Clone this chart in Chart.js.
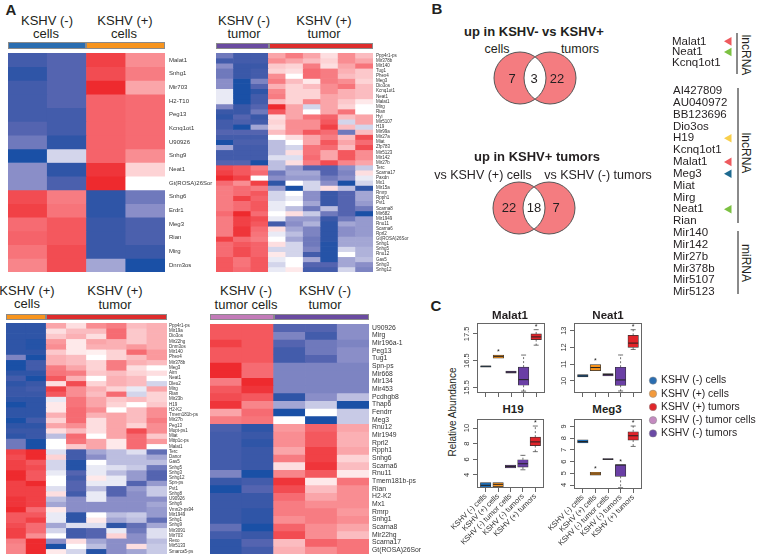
<!DOCTYPE html>
<html>
<head>
<meta charset="utf-8">
<script src="https://cdn.jsdelivr.net/npm/chart.js@4"></script>
<style>
html,body{margin:0;padding:0;background:#fff;overflow:hidden}
#fig{position:relative;width:759px;height:554px;overflow:hidden;font-family:"Liberation Sans",Arial,sans-serif;color:#231f20}
#fig canvas{position:absolute}
.t{position:absolute;white-space:nowrap;transform:translate(-50%,-50%);line-height:1}
.bar{position:absolute;box-sizing:border-box;border:1px solid #8a8a8a}
</style>
</head>
<body>
<div id="fig"></div>
<script>
// heatmap rows, z value -10 (blue) to 10 (red), one array per row
const cellNames = ['Malat1','Snhg1','Mir703','H2-T10','Peg13','Kcnq1ot1','U90926','Snhg9','Neat1','Gt(ROSA)26Sor','Snhg6','Erdr1','Meg3','Rian','Mirg','Dnm3os']
const cellRows = [
	[-8,-7,9,5],[-9,-7,8.5,6],[-8,-7,10,4],[-8,-7,7.5,7],[-8,-8,7.5,7],[-7,-8,7.5,7],[-6,-9,7.5,7],[-10,-2,7.5,5],
	[-5,-9,9.5,2],[-5,-7.5,10,0],[8.5,6,-9,-6],[9,6.5,-9,-5],[7,8,-8.5,-7.5],[7.5,8,-8.5,-7.5],[6.5,8.5,-8.5,-8.5],[5.5,8.5,-4,-10]
]
const tumorNames = ['Ppp4r1-ps','Mir378b','Mir140','Tug1','Phex4','Meg3','Dio3os','Kcnq1ot1','Neat1','Malat1','Mirg','Rian','Hyi','Mir5107','H19','Mir99a','Mir27a','Miat','Zfp783','Mir5123','Mir142','Mir27b','Terc','Scarna17','Paxdn','Mx1','Mir15a','Rmrp','Rpph1','Pvt1','Scarna8','Mir682','Mir1949','Rnu11','Scarna6','Rprl2','Gt(ROSA)26Sor','Snhg1','Snhg5','Rnu12','Gas5','Snhg3','Snhg12']
const tumorRows = [
	[-6,-8,-8,4,6,4,1.5,5,3],[-8,-8,-8,5,4,3,2,5,4],[-5,-8.5,-8.5,2.5,2,6,1.5,4,6.5],[-6,-8.5,-8,2,1.5,7,6,3.5,2.5],
	[-6,-8.5,-8,5,0,7,6,3,2.5],[-5,-10,-5.5,6,3,1,6,5,2],[-5,-10,-7,3.5,2,3,5,6.5,3],[-1,-10,-9,5.5,2,2,5,3.5,3],
	[-1,-10,-8,6,2,2,4,3.5,3],[-1,-10,-8,3,2,5.5,4,2.5,1],[-5.5,-8.5,-7,10,4,-2,4,2,0],[-8.5,-8.5,-6,8,4,0,4,6.5,0],
	[-9,-7,-8.5,1.5,4,6.5,7.5,3,4],[-8,-7.5,-8,2,5,5,8,-2,4],[-8,-10,-4,1.5,5,5,9,3,-2],[-7,-7,-7,3,5,8,7,-6,3],
	[-8,-8,-8,0,1.5,4,6,3,8.5],[-10,-7.5,-7.5,-3,0,4,8,4,7],[-4,-8,-8,-3,-2,6.5,7,3,8.5],[-8,-8,-8,-3,1.5,6.5,4,8,5],
	[-8,-8,-8,-1.5,-1.5,7,4,8,5],[-7,-7,-10,-3,1.5,6,8.5,5.5,4],[8.5,8,6,-3,-4.5,-7,-7,-5,-2.5],[9,8,7,-6,-4,-4,-7,-5.5,1.5],
	[10,9,0,-5,-4.5,-4.5,-6,-5,-1],[7,5,9,-9,0,-2,-5,-10,-2],[6,7,6,-4.5,-10,-2,1.5,-3,-9],[6,7,8,-2,0,-5,-8.5,-7,-4],
	[6,9,7.5,-2,-1,-5,-8.5,-7,-4],[6,7,8,-1,0,-4,-8.5,-7,-4.5],[6,7,8,-1,-3,-6,-3,-7,-6],[7,10,7,0,1.5,-2.5,-6,-7,-10],
	[6,9,8.5,-1,-4.5,-4.5,-8.5,-6,-4.5],[6,9,8,-8,-5,-3.5,-9,-4,-4.5],[6,9.5,7,1.5,-4,-5.5,-9,-5,-4.5],[6,9.5,6.5,-1,-3,-5.5,-9,-5,-4.5],
	[9,7,6,0,-4,-6,-9,-4,-4],[7,8,7.5,1.5,-2,-6,-9.5,-4,-4],[7,8.5,7.5,-2,-2,-5.5,-9.5,-2,-3.5],[7,8.5,7.5,1,-2,-8,-9.5,0,-3.5],
	[8,6.5,8,-1,0,-4,-9.5,-4,-3],[8,6.5,8,-2,0,-7,-7,-4,-5],[8,7,8,-1,1,-8,-8,-2,-5.5]
]
const plusNames = ['Ppp4r1-ps','Mir19a','Dio3os','Mir22hg','Dnm3os','Mir140','Phex4','Mir378b','Meg3','Airn','Neat1','Dleu2','Mirg','Rian','Mir23b','H19','H2-K2','Tmem181b-ps','Mir27b','Peg13','Mopt-ps1','Miat','Mttp1c-ps','Malat1','Terc','Danor','Gas5','Snhg5','Snhg3','Snhg12','Spn-ps','Pvt1','Snhg8','U90926','Snhg6','Vmn2r-ps94','Mir1949','Snhg1','Snhg9','Mir3091','Mir703','Rexo','Mir5133','Smarca5-ps']
const plusRows = [
	[-9,-9,4,1.5,5,6,3,3.5],[-9,-9,1.5,3,3,7,2.5,3.5],[-9,-9,2.5,3.5,1.5,7,2.5,3.5],[-9,-9.5,4.5,1,4,3.5,2.5,3.5],
	[-9,-9.5,5,1,3.5,3.5,4.5,3.5],[-9,-9,2.5,1,0.7,2,7,4.5],[-5.5,-10,3.5,3,0,2,3,4.5],[-10,-8,3.5,3,2,6,3.5,3],
	[-10,-8,6,4,2,6,1.5,0],[-9,-9,6.5,6,2.5,3,2,1.5],[-8,-10,8,3.5,0,3.5,3,0],[-9,-8.5,1.5,8.5,2,3.5,3,-2],
	[-8.5,-8,9,5,3.5,2,-1,4],[-8.5,-8.5,8,5,3,7,-2,2],[-9,-9,-1,6.5,4,2.5,3,2],[-10,-9,1,6.5,4,2,0,2.5],
	[-9,-9,1,7,5,0,3,5],[-9,-9,3.5,7,3.5,4,3,5],[-10,-8,2,7,1.5,4,3,6],[-9,-9,4,5,1.5,4,2,5],
	[-8.5,-8.5,1.5,3,1.5,4,8.5,5],[-9,-8.5,-3,7,0,4,7,2.5],[-6,-10,0,6.5,4,1,7,4.5],[-6,-10,0,2.5,4,1,7,0],
	[9,10,-1.5,-8,-4,-3,-1.5,-6.5],[8.5,10,2,-8,-5,-3,-3,-4],[9,8,-2,-9.5,0,-3,-3,-3],[9,8.5,-2,-9.5,-1,-1.5,-2.5,-6],
	[10,8,-1,-7,-1,-3,-4.5,-7],[10,8,0,-8,1,-1,-4.5,-7],[9,10,0,-7,-1,-1,-7,-4.5],[9,9,-1.5,-7,-3,-7,-4.5,-2.5],
	[9,9,1.5,-8,-1,-7,-5,-2.5],[9.5,9,-3,-5,-1,-5,-5,-5],[9.5,9,-4,-5,-5,-5,-5,-4],[10,7,1,-5,-5,-5,-5,-4.5],
	[8,8,-1,-9,0,-3,-2.5,-4.5],[8,9,-1,-9,1,-4,-3,-6.5],[8.5,7,-4,-1.5,-1.5,-9,-6.5,-4],[9,7,-2,-8,-7,-1,-6,-1.5],
	[9,5,0,-8,-7,2,-5,-1.5],[6,10,-5,1.5,-4,-5,-5,-3],[5.5,10,-10,0,-3,-5,1.5,-2.5],[5.5,10,1,-2,-9.5,-5,-4,-2.5]
]
const minusNames = ['U90926','Mirg','Mir196a-1','Peg13','Tug1','Spn-ps','Mir668','Mir134','Mir453','Pcdhgb8','Thap6','Fendrr','Meg3','Rnu12','Mir1949','Rprl2','Rpph1','Snhg6','Scarna6','Rnu11','Tmem181b-ps','Rian','H2-K2','Mx1','Rmrp','Snhg1','Scarna8','Mir22hg','Scarna17','Gt(ROSA)26Sor']
const minusRows = [
	[8,8,-7,-7,-5],[8,8,-5.5,-8,-5],[9,8,-7,-6,-5.5],[8,8,-8,-6,-5],[8,8,-8,-7,-5],[10,7,-5.5,-5.5,-5.5],
	[10,7,-5.5,-5.5,-5.5],[6,10,-5.5,-5.5,-5.5],[8,9.5,-5.5,-5.5,-5.5],[8.5,8,-9,-5,-3],[9.5,5.5,-4,-2.5,-10],[4,7,-10,0,-2.5],
	[6,6.5,0,-10,-2.5],[-7.5,-9,4.5,7.5,4],[-8,-8.5,5,8,3.5],[-8,-9,5,8,3.5],[-8,-8.5,4,9,4],[-8,-8.5,6,9,2],
	[-8,-8.5,1.5,9.5,3],[-5.5,-10,5.5,8,1],[-8.5,-8,9.5,1,6.5],[-10,-7,8.5,3,5],[-8.5,-8.5,7,4,5],[-8.5,-8.5,6,5,5],
	[-8.5,-9,6,6,4.5],[-8.5,-9,5,6,5],[-6.5,-10,7.5,5,4],[-8,-8.5,8.5,5,3],[-9,-7,3,7.5,6.5],[-9,-8,3.5,5,6.5]
]

// box plots: low whisker, q1, median, q3, high whisker
const boxGroups = ['KSHV (-) cells','KSHV (+) cells','KSHV (-) tumor cells','KSHV (-) tumors','KSHV (+) tumors']
const boxColors = ['#1f6db3','#f7941d','#7b4fa6','#6a3fa5','#e0242a']
const malat1Box = [[16.26,16.26,16.29,16.31,16.31],[16.59,16.59,16.65,16.71,16.71],[16.03,16.03,16.07,16.11,16.11],[15.36,15.58,15.79,16.26,16.71],[17.08,17.29,17.39,17.5,17.66]]
const neat1Box = [[10.24,10.24,10.3,10.38,10.38],[10.62,10.62,10.8,10.98,10.98],[10.3,10.3,10.38,10.44,10.44],[9.4,9.74,10.06,10.82,11.55],[11.88,12,12.26,12.72,13.06]]
const h19Box = [[2.41,2.41,2.67,3.02,3.02],[2.5,2.5,2.8,3.02,3.02],[4.91,4.91,5.09,5.26,5.26],[4.66,5,5.43,5.95,6.51],[6.98,7.76,8.23,8.84,10.26]]
const meg3Box = [[7.6,7.6,7.71,7.86,7.86],[4.83,4.83,4.94,5.09,5.09],[6.17,6.17,6.2,6.26,6.26],[3.77,4.74,5.7,5.74,5.74],[7.29,7.83,8.2,8.54,9.03]]
const malat1Stars = [0,1,0,0,1]
const neat1Stars = [0,1,0,0,1]
const h19Stars = [0,0,0,0,1]
const meg3Stars = [0,1,0,1,1]
const malat1Ticks = [15.5,16.5,17.5]
const neat1Ticks = [10,11,12,13]
const h19Ticks = [4,6,8,10]
const meg3Ticks = [4,5,6,7,8,9]

// venn counts
const vennDown = [7,3,22]
const vennUp = [22,18,7]

// gene lists and arrows
const shortGenes = ['Malat1','Neat1','Kcnq1ot1']
const shortMarks = ['#ee5a5e','#7cc142',null]
const longGenes = ['AI427809','AU040972','BB123696','Dio3os','H19','Kcnq1ot1','Malat1','Meg3','Miat','Mirg','Neat1','Rian','Mir140','Mir142','Mir27b','Mir378b','Mir5107','Mir5123']
const longMarks = [null,null,null,null,'#f9cf4b',null,'#ee5a5e','#1e6a90',null,null,'#7cc142',null,null,null,null,null,null,null]

// legend of panel C
const legendNames = ['KSHV (-) cells','KSHV (+) cells','KSHV (+) tumors','KSHV (-) tumor cells','KSHV (-) tumors']
const legendColors = ['#2a6db0','#f39a3c','#e0262a','#c48ac0','#6a4aa5']

const FONT = '"Liberation Sans", Arial, sans-serif'
const fig = document.getElementById('fig')
Chart.defaults.animation = false
Chart.defaults.responsive = false
Chart.defaults.font.family = FONT
Chart.defaults.color = '#231f20'
Chart.defaults.plugins.legend.display = false
Chart.defaults.plugins.tooltip.enabled = false
Chart.defaults.layout.autoPadding = false

function addCanvas(x,y,w,h){
	const c = document.createElement('canvas')
	c.width = w; c.height = h
	c.style.left = x+'px'; c.style.top = y+'px'
	c.style.width = w+'px'; c.style.height = h+'px'
	fig.appendChild(c)
	return c.getContext('2d')
}
function addText(txt,x,y,size,extra){
	const d = document.createElement('div')
	d.className = 't'
	d.textContent = txt
	d.style.left = x+'px'; d.style.top = y+'px'; d.style.fontSize = size+'px'
	if (extra) Object.assign(d.style,extra)
	fig.appendChild(d)
}
function addBar(x,y,w,h,color){
	const d = document.createElement('div')
	d.className = 'bar'
	Object.assign(d.style,{left:x+'px',top:y+'px',width:w+'px',height:h+'px',background:color})
	fig.appendChild(d)
}
// keep the plot area exactly where the canvas says, no room for label overhang
function fitY(width){
	return s=>{ s.width = width; s.paddingTop = 0; s.paddingBottom = 0 }
}
function fitX(height){
	return s=>{ s.height = height; s.paddingLeft = 0; s.paddingRight = 0 }
}

const stops = [[-10,26,80,166],[-8.5,58,88,168],[-7,84,100,176],[-5,138,142,200],[-2.5,200,202,230],[0,255,255,255],[2.5,252,200,203],[5,249,141,146],[7.5,245,99,106],[10,238,42,46]]
function zColor(z){
	for (let i=1; i<stops.length; i++){
		if (z <= stops[i][0]){
			const a = stops[i-1], b = stops[i], f = (z-a[0])/(b[0]-a[0])
			return 'rgb('+[1,2,3].map(k=>Math.round(a[k]+(b[k]-a[k])*f)).join(',')+')'
		}
	}
	return 'rgb(238,42,46)'
}

// heatmap = stacked bars, every row is a dataset of height 1
function heatmap(x,y,w,h,labelW,size,pad,names,rows){
	const cols = rows[0].map((_,i)=>i)
	new Chart(addCanvas(x,y,w+labelW,h),{
		type:'bar',
		data:{
			labels:cols,
			datasets:rows.map((row,i)=>({
				label:names[i],
				data:row.map(()=>1),
				backgroundColor:row.map(zColor),
				borderWidth:0,
				barPercentage:1,
				categoryPercentage:1
			}))
		},
		options:{
			scales:{
				x:{stacked:true,display:false},
				y:{
					stacked:true,position:'right',reverse:true,min:0,max:rows.length,
					border:{display:false},grid:{display:false,drawTicks:false},
					afterBuildTicks:s=>{s.ticks = names.map((_,i)=>({value:i+0.5}))},
					afterFit:fitY(labelW),
					ticks:{autoSkip:false,padding:pad,font:{size:size},color:'#333',callback:v=>names[Math.floor(v)]}
				}
			}
		}
	})
}

const boxPlugin = {
	id:'boxExtras',
	afterDatasetsDraw(chart,args,opts){
		const ctx = chart.ctx, xs = chart.scales.x, ys = chart.scales.y, area = chart.chartArea
		ctx.save()
		opts.box.forEach((b,i)=>{
			const px = xs.getPixelForValue(i+1), half = 5
			ctx.strokeStyle = '#333'
			ctx.lineWidth = 0.7
			ctx.setLineDash([2,2])
			ctx.beginPath()
			ctx.moveTo(px,ys.getPixelForValue(b[3])); ctx.lineTo(px,ys.getPixelForValue(b[4]))
			ctx.moveTo(px,ys.getPixelForValue(b[1])); ctx.lineTo(px,ys.getPixelForValue(b[0]))
			ctx.stroke()
			ctx.setLineDash([])
			ctx.beginPath()
			if (b[4] > b[3]){ ctx.moveTo(px-half/2,ys.getPixelForValue(b[4])); ctx.lineTo(px+half/2,ys.getPixelForValue(b[4])) }
			if (b[0] < b[1]){ ctx.moveTo(px-half/2,ys.getPixelForValue(b[0])); ctx.lineTo(px+half/2,ys.getPixelForValue(b[0])) }
			ctx.stroke()
			ctx.strokeStyle = '#222'
			ctx.lineWidth = 1
			ctx.beginPath()
			ctx.moveTo(px-half,ys.getPixelForValue(b[2])); ctx.lineTo(px+half,ys.getPixelForValue(b[2]))
			ctx.stroke()
			if (opts.stars[i]){
				ctx.fillStyle = '#222'
				ctx.font = '7px '+FONT
				ctx.textAlign = 'center'
				ctx.textBaseline = 'middle'
				ctx.fillText('*',px,ys.getPixelForValue(b[4])-3)
			}
		})
		// frame and rotated y labels
		ctx.strokeStyle = '#666'
		ctx.lineWidth = 1
		ctx.strokeRect(area.left+0.5,area.top+0.5,area.right-area.left-1,area.bottom-area.top-1)
		ctx.fillStyle = '#333'
		ctx.font = '7.5px '+FONT
		ctx.textAlign = 'center'
		ctx.textBaseline = 'middle'
		ys.ticks.forEach(t=>{
			ctx.save()
			ctx.translate(area.left-10,ys.getPixelForValue(t.value))
			ctx.rotate(-Math.PI/2)
			ctx.fillText(String(t.value),0,0)
			ctx.restore()
		})
		ctx.restore()
	}
}

function boxplot(x,y,w,h,axisW,bottomH,box,stars,yTicks,ymin,ymax,showLabels){
	new Chart(addCanvas(x,y,w+axisW,h+bottomH),{
		type:'bar',
		data:{datasets:[{
			data:box.map((b,i)=>({x:i+1,y:[b[1],b[3]]})),
			backgroundColor:boxColors,
			borderColor:'#333',
			borderWidth:0.7,
			borderSkipped:false,
			barThickness:10.5
		}]},
		options:{
			plugins:{boxExtras:{box:box,stars:stars}},
			scales:{
				x:{
					type:'linear',min:0.3,max:5.7,offset:false,
					border:{display:false},
					grid:{offset:false,drawOnChartArea:false,tickLength:4,color:'#666'},
					afterBuildTicks:s=>{s.ticks = boxGroups.map((_,i)=>({value:i+1}))},
					afterFit:fitX(bottomH),
					ticks:{
						autoSkip:false,minRotation:45,maxRotation:45,padding:0,
						font:{size:7.5},color:'#333',
						callback:v=>showLabels ? boxGroups[v-1] : ''
					}
				},
				y:{
					min:ymin,max:ymax,
					border:{display:false},
					grid:{drawOnChartArea:false,tickLength:4,color:'#666'},
					afterBuildTicks:s=>{s.ticks = yTicks.map(v=>({value:v}))},
					afterFit:fitY(axisW),
					ticks:{display:false}
				}
			}
		},
		plugins:[boxPlugin]
	})
}

const lensPlugin = {
	id:'lens',
	afterDatasetsDraw(chart){
		const ctx = chart.ctx, pts = chart.getDatasetMeta(0).data
		const r = chart.data.datasets[0].data[0].r
		ctx.save()
		ctx.beginPath(); ctx.arc(pts[0].x,pts[0].y,r,0,Math.PI*2); ctx.clip()
		ctx.beginPath(); ctx.arc(pts[1].x,pts[1].y,r,0,Math.PI*2)
		ctx.fillStyle = '#fff'; ctx.fill()
		ctx.restore()
		ctx.strokeStyle = '#555'
		pts.forEach(p=>{ ctx.beginPath(); ctx.arc(p.x,p.y,r,0,Math.PI*2); ctx.stroke() })
	}
}
function venn(x,y){
	new Chart(addCanvas(x,y,90,60),{
		type:'bubble',
		data:{datasets:[{
			data:[{x:0,y:0,r:26},{x:1,y:0,r:26}],
			backgroundColor:'#f47c80',
			borderWidth:0
		}]},
		options:{scales:{x:{display:false,min:-1,max:2},y:{display:false,min:-1,max:1}}},
		plugins:[lensPlugin]
	})
}

// gene list: category axis gives the names, points give the arrows
function geneList(x,y,w,h,axisW,genes,marks){
	new Chart(addCanvas(x,y,w,h),{
		type:'scatter',
		data:{datasets:[{
			data:genes.map(g=>({x:0,y:g})),
			pointStyle:'triangle',
			rotation:-90,
			clip:false,
			radius:marks.map(m=>m ? 5 : 0),
			backgroundColor:marks.map(m=>m || 'transparent'),
			borderWidth:0
		}]},
		options:{scales:{
			x:{display:false,min:0,max:1},
			y:{
				type:'category',labels:genes,offset:true,
				border:{display:false},grid:{display:false,drawTicks:false},
				afterFit:fitY(axisW),
				ticks:{autoSkip:false,crossAlign:'far',padding:0,font:{size:11.5},color:'#231f20'}
			}
		}}
	})
}

// panel A
addText('A',11,9,15,{fontWeight:'bold'})
addBar(8,42,78,7,'#2a6db0'); addBar(86,42,79,7,'#f7941d')
addText('KSHV (-)',47,20,13); addText('cells',46,33,13)
addText('KSHV (+)',125,20,13); addText('cells',124,33,13)
heatmap(8,53,157,219,48,6,4,cellNames,cellRows)

addBar(216,43,53,6,'#6a4ba0'); addBar(269,43,104,6,'#dd2c2c')
addText('KSHV (-)',244,20,13); addText('tumor',244,33,13)
addText('KSHV (+)',324,20,13); addText('tumor',324,33,13)
heatmap(216,53,157,219,36,4.5,3,tumorNames,tumorRows)

addBar(6,314,40,6,'#f7941d'); addBar(46,314,121,6,'#dd2c2c')
addText('KSHV (+)',27,290,13); addText('cells',27,303,13)
addText('KSHV (+)',115,290,13); addText('tumor',115,304,13)
heatmap(6,323,161,231,40,4.5,2,plusNames,plusRows)

addBar(210,314,64,6,'#c27bb8'); addBar(274,314,95,6,'#6a4ba0')
addText('KSHV (-)',246,290,13); addText('tumor cells',246,304,13)
addText('KSHV (-)',325,290,13); addText('tumor',325,304,13)
heatmap(210,324,159,230,54,6.8,3,minusNames,minusRows)

// panel B
addText('B',437,8,15,{fontWeight:'bold'})
addText('up in KSHV- vs KSHV+',534,31,13,{fontWeight:'bold'})
addText('cells',497,49,12.5); addText('tumors',580,49,12.5)
venn(490,48)
addText(vennDown[0],512,78,13); addText(vennDown[1],534,78,13); addText(vennDown[2],557,78,13)
addText('up in KSHV+ tumors',537,156,13,{fontWeight:'bold'})
addText('vs KSHV (+) cells',483,175,12.5); addText('vs KSHV (-) tumors',598,175,12.5)
venn(489,178)
addText(vennUp[0],509,207,13); addText(vennUp[1],534,207,13); addText(vennUp[2],556,207,13)

geneList(672,36,64,32,57,shortGenes,shortMarks)
geneList(673,85,63,213,56,longGenes,longMarks)
addBar(736,33,1,41,'#888'); addBar(737,88,1,135,'#888'); addBar(737,231,1,63,'#888')
addText('lncRNA',746,55,12,{transform:'translate(-50%,-50%) rotate(90deg)'})
addText('lncRNA',746,153,12,{transform:'translate(-50%,-50%) rotate(90deg)'})
addText('miRNA',746,263,12,{transform:'translate(-50%,-50%) rotate(90deg)'})

// panel C
addText('C',436,305,15,{fontWeight:'bold'})
addText('Malat1',510,316,11.5,{fontWeight:'bold'}); addText('Neat1',608,316,11.5,{fontWeight:'bold'})
addText('H19',513,410,11.5,{fontWeight:'bold'}); addText('Meg3',607,410,11.5,{fontWeight:'bold'})
addText('Relative Abundance',453,412,10,{transform:'translate(-50%,-50%) rotate(-90deg)'})
boxplot(455,323,68,70,22,8,malat1Box,malat1Stars,malat1Ticks,15.29,17.91,false)
boxplot(552,323,68,70,22,8,neat1Box,neat1Stars,neat1Ticks,9.28,13.46,false)
// lower row: wider left margin so the slanted labels are not cut
boxplot(443,419,67,69,34,62,h19Box,h19Stars,h19Ticks,2.33,11.16,true)
boxplot(540,419,68,70,34,62,meg3Box,meg3Stars,meg3Ticks,3.66,9.63,true)

new Chart(addCanvas(645,374,114,66),{
	type:'scatter',
	data:{datasets:[{
		data:legendNames.map(n=>({x:0.5,y:n})),
		pointStyle:'circle',
		radius:3.7,
		backgroundColor:legendColors,
		borderColor:'#888',
		borderWidth:0.5
	}]},
	options:{scales:{
		x:{display:false,min:0,max:1},
		y:{
			type:'category',labels:legendNames,offset:true,position:'right',
			border:{display:false},grid:{display:false,drawTicks:false},
			afterFit:fitY(98),
			ticks:{autoSkip:false,padding:0,font:{size:10.4},color:'#231f20'}
		}
	}}
})
</script>
</body>
</html>
